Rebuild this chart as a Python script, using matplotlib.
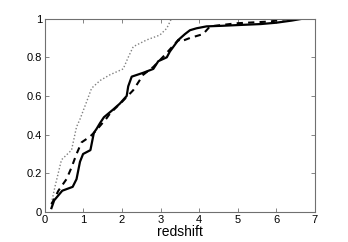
import matplotlib
matplotlib.use('Agg')
import matplotlib.pyplot as plt

plt.rcParams['font.family'] = ['Liberation Sans', 'DejaVu Sans']

# cumulative redshift distributions
solid_z = [0.17, 0.24, 0.45, 0.72, 0.82, 0.91, 0.99, 1.18, 1.27, 1.34, 1.43, 1.53, 1.77,
           1.94, 2.12, 2.16, 2.25, 2.55, 2.81, 2.94, 3.16, 3.24, 3.46, 3.63, 3.76, 3.93,
           4.19, 4.6, 5.14, 5.6, 6.0, 6.4, 6.69]
solid_f = [0.02, 0.06, 0.11, 0.13, 0.17, 0.26, 0.30, 0.32, 0.41, 0.43, 0.46, 0.49, 0.53,
           0.56, 0.60, 0.65, 0.70, 0.72, 0.74, 0.78, 0.80, 0.83, 0.89, 0.92, 0.94, 0.95,
           0.96, 0.963, 0.968, 0.972, 0.979, 0.99, 1.0]

dash_z = [0.17, 0.35, 0.56, 0.69, 0.82, 0.95, 1.17, 1.30, 1.6, 1.69, 2.0, 2.29, 2.55,
          2.81, 3.1, 3.46, 3.5, 3.76, 4.1, 4.28, 4.97, 5.83, 6.27, 6.7]
dash_f = [0.04, 0.11, 0.17, 0.23, 0.30, 0.36, 0.39, 0.415, 0.485, 0.51, 0.57, 0.63, 0.71,
          0.75, 0.81, 0.89, 0.88, 0.90, 0.92, 0.96, 0.976, 0.985, 0.998, 1.0]

dot_z = [0.17, 0.26, 0.43, 0.69, 0.82, 0.91, 1.10, 1.21, 1.43, 1.69, 2.03, 2.16, 2.29,
         2.64, 2.98, 3.16, 3.28]
dot_f = [0.045, 0.13, 0.27, 0.32, 0.44, 0.48, 0.58, 0.64, 0.68, 0.71, 0.74, 0.80, 0.855,
         0.89, 0.915, 0.95, 1.0]

xticks = [0, 1, 2, 3, 4, 5, 6, 7]
yticks = [0, 0.2, 0.4, 0.6, 0.8, 1]

fig = plt.figure(figsize=(3.48, 2.42), dpi=100)
ax = fig.add_axes([0.129, 0.124, 0.776, 0.799])

ax.plot(dot_z, dot_f, color='#808080', linestyle=(0, (1, 1.5)), linewidth=1.0)
ax.plot(dash_z, dash_f, color='black', linestyle=(0, (3, 2.5)), linewidth=1.5)
ax.plot(solid_z, solid_f, color='black', linewidth=1.6)

ax.set_xlim(0, 7)
ax.set_ylim(0, 1)
ax.set_xticks(xticks)
ax.set_yticks(yticks)
ax.set_yticklabels(['0', '0.2', '0.4', '0.6', '0.8', '1'])
ax.tick_params(direction='in', top=True, right=True, length=3, width=0.6,
               color='#707070', labelsize=8, pad=2)
for s in ax.spines.values():
    s.set_color('#707070')
    s.set_linewidth(0.8)
ax.set_xlabel('redshift', fontsize=10, labelpad=0)

fig.savefig('out.png', dpi=100)
